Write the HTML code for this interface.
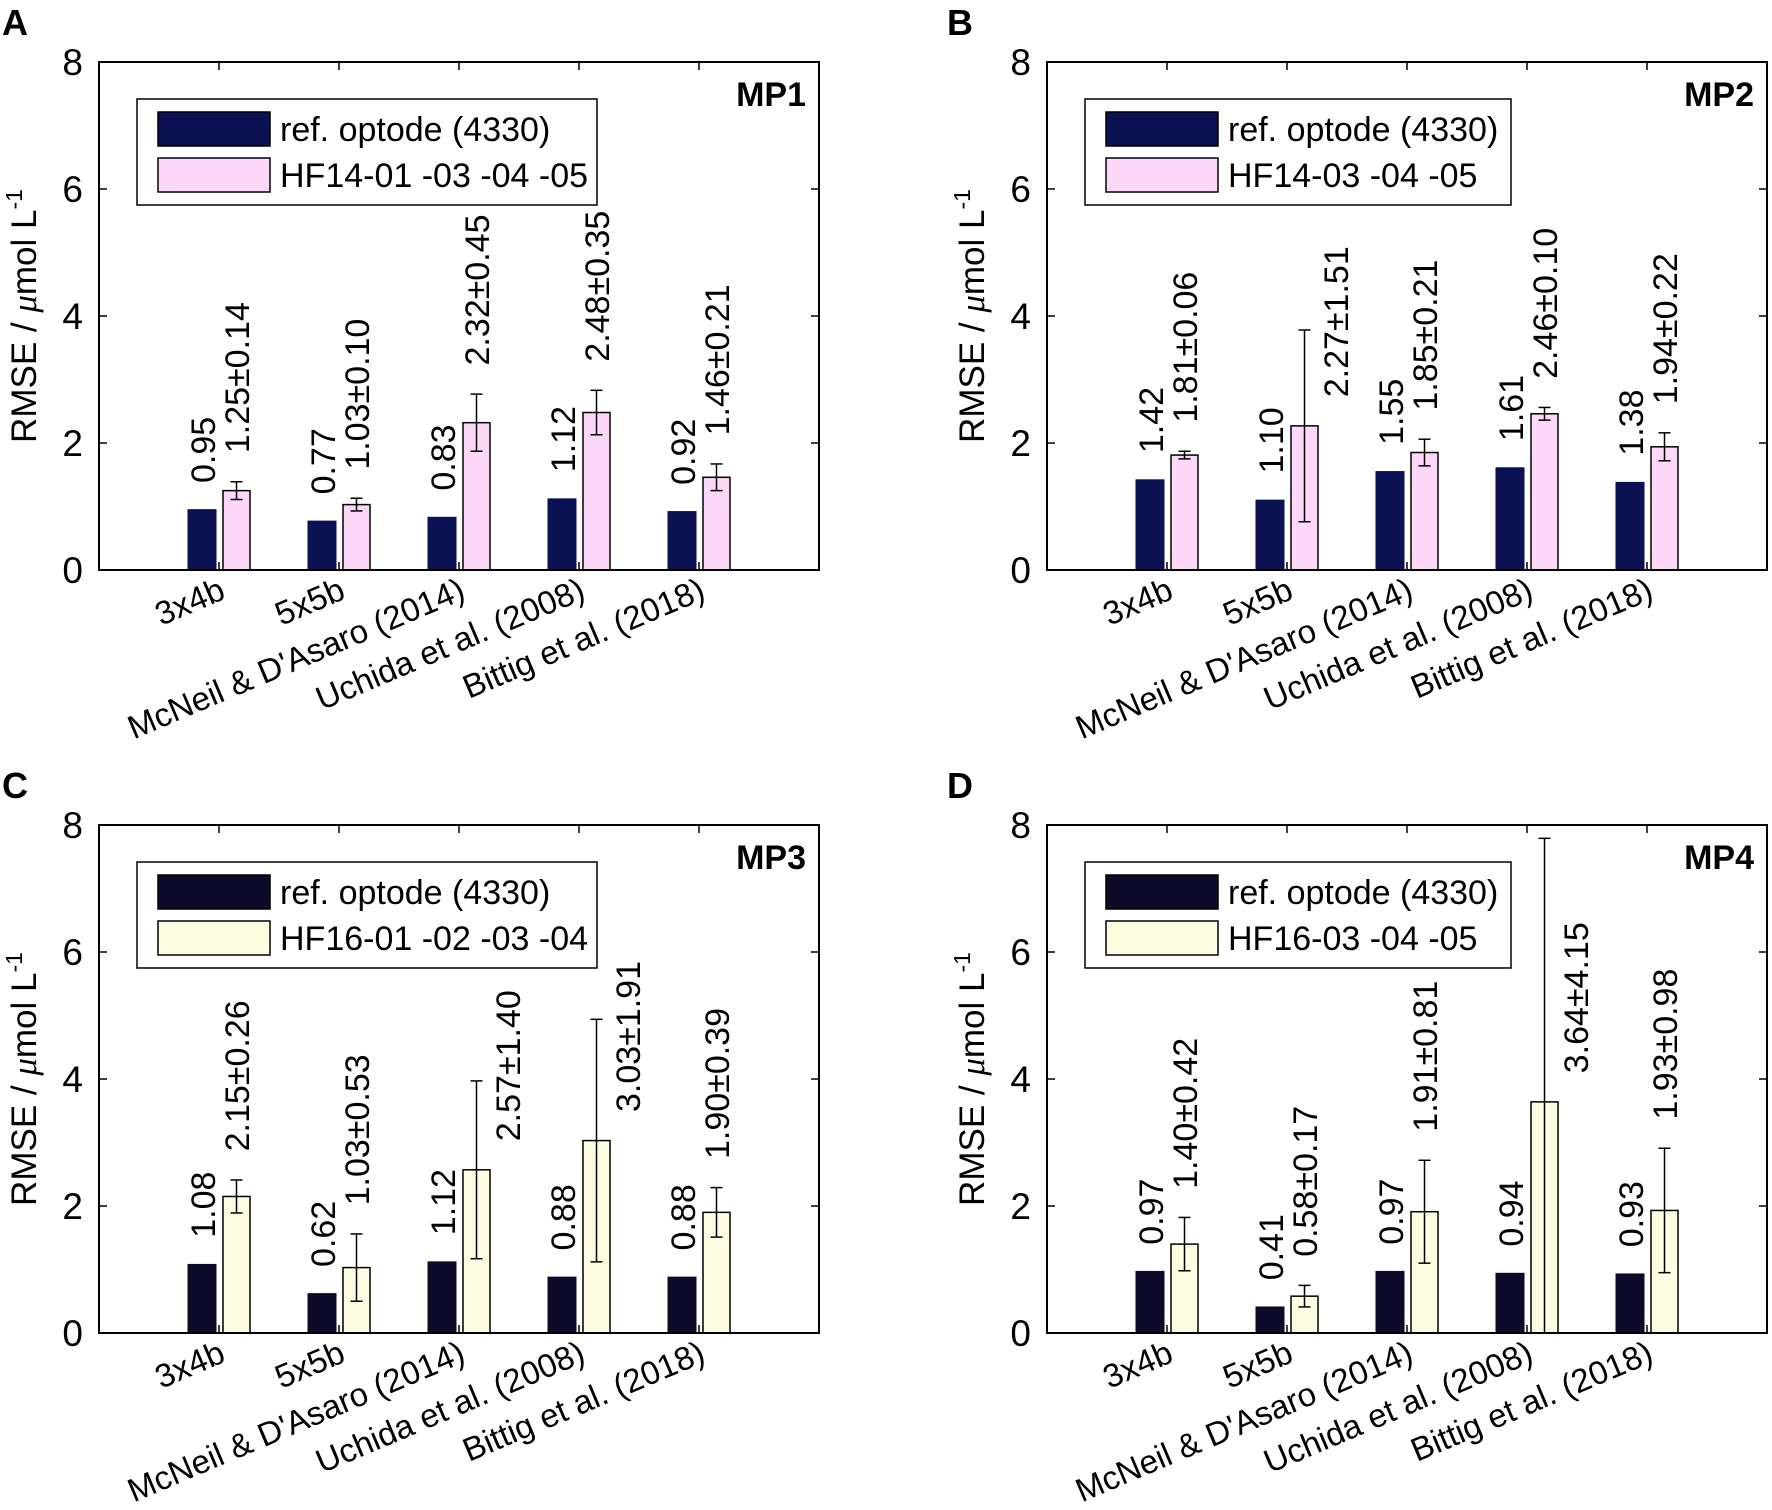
<!DOCTYPE html>
<html><head><meta charset="utf-8"><style>
html,body{margin:0;padding:0;background:#fff;}
svg{display:block;font-family:"Liberation Sans",Arial,sans-serif;}
</style></head><body>
<svg id="fig" width="1772" height="1510" viewBox="0 0 1772 1510"></svg>
<script>
const categories = ["3x4b","5x5b","McNeil & D'Asaro (2014)","Uchida et al. (2008)","Bittig et al. (2018)"];
const refA = [0.95,0.77,0.83,1.12,0.92];
const hfA = [1.25,1.03,2.32,2.48,1.46];
const errA = [0.14,0.10,0.45,0.35,0.21];
const refB = [1.42,1.10,1.55,1.61,1.38];
const hfB = [1.81,2.27,1.85,2.46,1.94];
const errB = [0.06,1.51,0.21,0.10,0.22];
const refC = [1.08,0.62,1.12,0.88,0.88];
const hfC = [2.15,1.03,2.57,3.03,1.90];
const errC = [0.26,0.53,1.40,1.91,0.39];
const refD = [0.97,0.41,0.97,0.94,0.93];
const hfD = [1.40,0.58,1.91,3.64,1.93];
const errD = [0.42,0.17,0.81,4.15,0.98];
const yTicks = [0,2,4,6,8];

const NS="http://www.w3.org/2000/svg";
const svg=document.getElementById('fig');
function mk(tag,attrs,parent,text){
  const e=document.createElementNS(NS,tag);
  for(const k in attrs) e.setAttribute(k,attrs[k]);
  if(text!==undefined) e.textContent=text;
  (parent||svg).appendChild(e);
  return e;
}
const panels=[
 {id:'a',letter:'A',lx:2,ly:35,left:99,top:62,bottom:570,title:'MP1',ref:refA,hf:hfA,err:errA,dark:'#0b1052',light:'#fcd7f7',leg:'HF14-01 -03 -04 -05',legW:460},
 {id:'b',letter:'B',lx:947,ly:35,left:1047,top:62,bottom:570,title:'MP2',ref:refB,hf:hfB,err:errB,dark:'#0b1052',light:'#fcd7f7',leg:'HF14-03 -04 -05',legW:426},
 {id:'c',letter:'C',lx:2,ly:798,left:99,top:825,bottom:1333,title:'MP3',ref:refC,hf:hfC,err:errC,dark:'#0e0a2a',light:'#fdfde2',leg:'HF16-01 -02 -03 -04',legW:460},
 {id:'d',letter:'D',lx:947,ly:798,left:1047,top:825,bottom:1333,title:'MP4',ref:refD,hf:hfD,err:errD,dark:'#0e0a2a',light:'#fdfde2',leg:'HF16-03 -04 -05',legW:426}
];
panels.forEach(p=>{
  const g=mk('g',{});
  
  
  const unit=120, right=p.left+6*unit;
  const X=i=>p.left+(i+1)*unit;
  const Y=v=>p.bottom-(v/8)*(p.bottom-p.top);
  const pl=mk('text',{x:p.lx,y:p.ly,'font-size':36,'font-weight':'bold'},g,p.letter);
  
  
  const cp=mk('clipPath',{id:'clip'+p.id},g);
  mk('rect',{x:p.left,y:p.top,width:right-p.left,height:p.bottom-p.top},cp);
  yTicks.forEach(t=>{
    mk('line',{x1:p.left,x2:p.left+8,y1:Y(t),y2:Y(t),stroke:'#000','stroke-width':1.5},g);
    mk('line',{x1:right,x2:right-8,y1:Y(t),y2:Y(t),stroke:'#000','stroke-width':1.5},g);
    const tl=mk('text',{x:p.left-16,y:Y(t)+13,'font-size':37,'text-anchor':'end'},g,String(t));
    
    
  });
  const yt=mk('text',{transform:`translate(${p.left-63},${(p.top+p.bottom)/2}) rotate(-90)`,'font-size':35,'text-anchor':'middle'},g);
  
  
  mk('tspan',{},yt,'RMSE / ');
  mk('tspan',{'font-family':'Liberation Serif, serif','font-style':'italic'},yt,'μ');
  mk('tspan',{},yt,'mol L');
  mk('tspan',{dy:-14,'font-size':23},yt,'-1');
  const bg=mk('g',{'clip-path':`url(#clip${p.id})`},g);
  categories.forEach((c,i)=>{
    const cx=X(i);
    mk('line',{x1:cx,x2:cx,y1:p.top,y2:p.top+8,stroke:'#000','stroke-width':1.5},g);
    mk('line',{x1:cx,x2:cx,y1:p.bottom,y2:p.bottom-8,stroke:'#000','stroke-width':1.5},g);
    const r=mk('rect',{x:cx-31,y:Y(p.ref[i]),width:28,height:Y(0)-Y(p.ref[i]),fill:p.dark,stroke:p.dark,'stroke-width':1},bg);
    
    
    const h=mk('rect',{x:cx+4,y:Y(p.hf[i]),width:27,height:Y(0)-Y(p.hf[i]),fill:p.light,stroke:'#000','stroke-width':1.5},bg);
    
    
    const ex=cx+17.5, lo=p.hf[i]-p.err[i], hi=p.hf[i]+p.err[i];
    const eb=mk('g',{stroke:'#000','stroke-width':1.5},bg);
    
    
    mk('line',{x1:ex,x2:ex,y1:Y(lo),y2:Y(hi)},eb);
    mk('line',{x1:ex-6,x2:ex+6,y1:Y(lo),y2:Y(lo)},eb);
    mk('line',{x1:ex-6,x2:ex+6,y1:Y(hi),y2:Y(hi)},eb);
    const rl=Y(p.ref[i]+0.42);
    const t1=mk('text',{transform:`translate(${cx-4},${rl}) rotate(-90)`,'font-size':34},g,p.ref[i].toFixed(2));
    
    
    const big=p.err[i]>1;
    const hb=big?p.hf[i]+0.45:hi+0.45;
    const t2=mk('text',{transform:`translate(${big?cx+61:cx+30},${Y(hb)}) rotate(-90)`,'font-size':34},g,p.hf[i].toFixed(2)+'±'+p.err[i].toFixed(2));
    
    
    const xl=mk('text',{transform:`translate(${cx+8},${p.bottom+28}) rotate(-23)`,'font-size':33,'text-anchor':'end'},g,c);
    
    
  });
  const ax=mk('rect',{x:p.left,y:p.top,width:right-p.left,height:p.bottom-p.top,fill:'none',stroke:'#000','stroke-width':2},g);
  
  
  const tt=mk('text',{x:right-13,y:p.top+44,'font-size':34,'font-weight':'bold','text-anchor':'end'},g,p.title);
  
  
  const lx=p.left+38, ly=p.top+37;
  const lg=mk('g',{},g);
  
  
  mk('rect',{x:lx,y:ly,width:p.legW,height:106,fill:'#fff',stroke:'#000','stroke-width':1.5},lg);
  mk('rect',{x:lx+21,y:ly+13,width:112,height:34,fill:p.dark,stroke:'#000','stroke-width':1.5},lg);
  mk('rect',{x:lx+21,y:ly+59,width:112,height:34,fill:p.light,stroke:'#000','stroke-width':1.5},lg);
  const e1=mk('text',{x:lx+143,y:ly+42,'font-size':34},lg,'ref. optode (4330)');
  
  
  const e2=mk('text',{x:lx+143,y:ly+88,'font-size':34},lg,p.leg);
  
  
});
</script>
</body></html>
